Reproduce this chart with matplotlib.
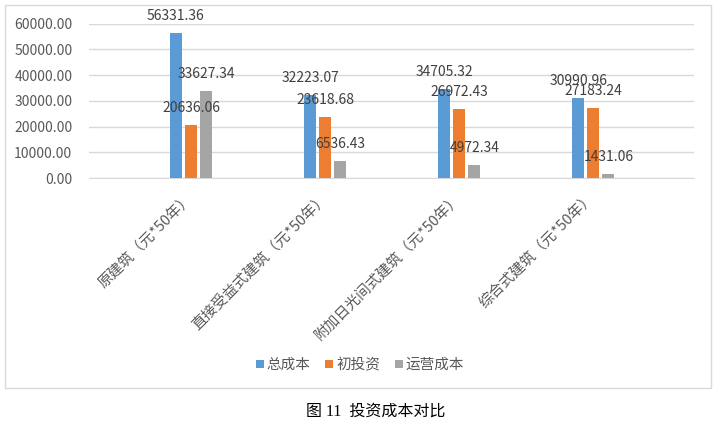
import matplotlib
matplotlib.use("Agg")
import matplotlib.pyplot as plt
from matplotlib.patches import Rectangle
import numpy as np

plt.rcParams['font.family'] = ['Noto Sans CJK SC', 'DejaVu Sans']

categories = ['原建筑（元*50年）', '直接受益式建筑（元*50年）', '附加日光间式建筑（元*50年）', '综合式建筑（元*50年）']
series_names = ['总成本', '初投资', '运营成本']
total_cost = [56331.36, 32223.07, 34705.32, 30990.96]
initial_invest = [20636.06, 23618.68, 26972.43, 27183.24]
operating_cost = [33627.34, 6536.43, 4972.34, 1431.06]
colors = ['#5B9BD5', '#ED7D31', '#A5A5A5']
yticks = [0, 10000, 20000, 30000, 40000, 50000, 60000]

W, H = 716, 421
fig = plt.figure(figsize=(W / 100, H / 100), dpi=100)
ax = fig.add_axes([89 / W, 1 - 178 / H, (694 - 89) / W, (178 - 23.5) / H])

x = np.arange(len(categories))
bw = 0.09
step = 0.112
series = [total_cost, initial_invest, operating_cost]
for i, (vals, name, c) in enumerate(zip(series, series_names, colors)):
    pos = x + (i - 1) * step
    ax.bar(pos, vals, width=bw, color=c, label=name, zorder=3)
    for px, v in zip(pos, vals):
        ax.annotate(f'{v:.2f}', xy=(px, v), xytext=(0, 17), textcoords='offset pixels',
                    ha='center', va='center', fontsize=10, color='#404040', zorder=4)

ax.set_xlim(-0.76, 3.75)
ax.set_ylim(0, 60000)
ax.set_yticks(yticks)
ax.set_yticklabels([f'{t:.2f}' for t in yticks])
ax.yaxis.grid(True, color='#D9D9D9', linewidth=1, zorder=0)
ax.set_axisbelow(True)
for s in ['top', 'right', 'left']:
    ax.spines[s].set_visible(False)
ax.spines['bottom'].set_color('#D9D9D9')
ax.tick_params(axis='y', length=0, pad=12, labelsize=10, labelcolor='#595959')
ax.tick_params(axis='x', length=0, pad=13, labelsize=10.6, labelcolor='#595959')
ax.set_xticks(x)
ax.set_xticklabels(categories, rotation=45, ha='right', va='center', rotation_mode='anchor')

handles, labels = ax.get_legend_handles_labels()
fig.legend(handles, labels, loc='center', bbox_to_anchor=(360 / W, 1 - 365 / H), ncol=3,
           frameon=False, fontsize=10.5, handlelength=0.55, handleheight=0.55,
           handletextpad=0.2, columnspacing=1.0, labelcolor='#595959')

fig.patches.append(Rectangle((5 / W, 1 - 388 / H), 706 / W, 383 / H, transform=fig.transFigure,
                             fill=False, edgecolor='#D9D9D9', linewidth=1))

fig.text(375.5 / W, 1 - 412 / H, '图 11  投资成本对比', ha='center', va='center', fontsize=11.5,
         family=['Liberation Serif', 'Noto Sans CJK SC'], fontweight='light', color='#000000')

fig.savefig('out.png', dpi=100, facecolor='white')
